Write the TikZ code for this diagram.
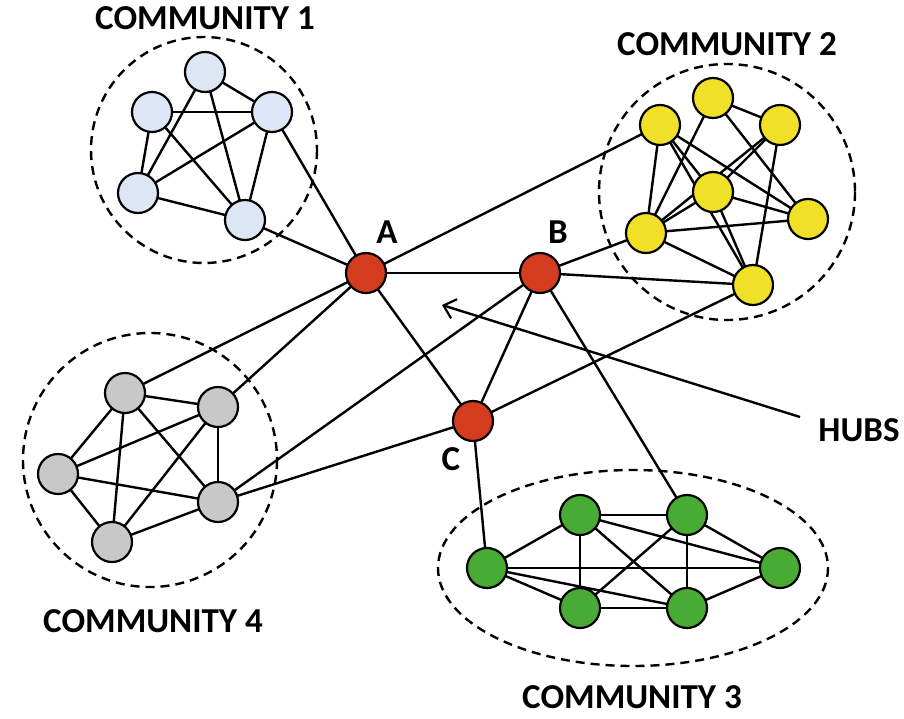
\documentclass[tikz,border=0pt]{standalone}
\usepackage{fontspec}
\setmainfont{Carlito}
\usetikzlibrary{arrows.meta}
\pgfdeclarelayer{bg}
\pgfsetlayers{bg,main}
\definecolor{cblue}{RGB}{220,230,244}
\definecolor{cyellow}{RGB}{240,224,40}
\definecolor{cgreen}{RGB}{72,172,52}
\definecolor{cgray}{RGB}{200,200,200}
\definecolor{cred}{RGB}{212,60,32}
\begin{document}
\begin{tikzpicture}[x=1pt,y=-1pt,
  vnode/.style={circle,draw=black,line width=2.2pt,minimum size=40pt,inner sep=0pt},
  bluen/.style={vnode,fill=cblue},
  yellown/.style={vnode,fill=cyellow},
  greenn/.style={vnode,fill=cgreen},
  grayn/.style={vnode,fill=cgray},
  hubn/.style={vnode,fill=cred},
  edge/.style={draw=black,line width=2.4pt},
  comm/.style={draw=black,line width=2.4pt,dash pattern=on 9pt off 6pt},
  lbl/.style={inner sep=0pt,font=\fontsize{35}{40}\selectfont\bfseries}
]
\useasboundingbox (0,0) rectangle (904,718);

% nodes
\node[bluen] (n1) at (205,72) {};
\node[bluen] (n2) at (152,112) {};
\node[bluen] (n3) at (272,112) {};
\node[bluen] (n4) at (138,193) {};
\node[bluen] (n5) at (245,220) {};

\node[yellown] (y1) at (713,98) {};
\node[yellown] (y2) at (660,125) {};
\node[yellown] (y3) at (780,125) {};
\node[yellown] (y4) at (713,192) {};
\node[yellown] (y5) at (808,219) {};
\node[yellown] (y6) at (646,233) {};
\node[yellown] (y7) at (753,285) {};

\node[grayn] (g1) at (125,393) {};
\node[grayn] (g2) at (218,407) {};
\node[grayn] (g3) at (58,474) {};
\node[grayn] (g4) at (218,502) {};
\node[grayn] (g5) at (112,542) {};

\node[greenn] (e1) at (487,568) {};
\node[greenn] (e2) at (580,515) {};
\node[greenn] (e3) at (687,515) {};
\node[greenn] (e4) at (780,568) {};
\node[greenn] (e5) at (580,608) {};
\node[greenn] (e6) at (687,608) {};

\node[hubn] (A) at (366,273) {};
\node[hubn] (B) at (540,273) {};
\node[hubn] (C) at (473,421) {};

\begin{pgfonlayer}{bg}
\fill[white] (0,0) rectangle (904,718);
% community outlines
\draw[comm] (204,150) circle (113);
\draw[comm] (727,192) circle (128);
\draw[comm] (150,460) circle (127);
\draw[comm] (633,568) ellipse (195 and 98);
% community 1
\foreach \a/\b in {n1/n3,n1/n4,n1/n5,n2/n3,n2/n4,n2/n5,n3/n4,n3/n5,n4/n5}
  \draw[edge] (\a.center) -- (\b.center);
% community 2
\foreach \a/\b in {y1/y3,y1/y6,y1/y5,y2/y6,y2/y5,y2/y7,y2/y4,y3/y6,y3/y4,y3/y7,y4/y6,y4/y5,y4/y7,y6/y5,y6/y7}
  \draw[edge] (\a.center) -- (\b.center);
% community 4
\foreach \a/\b in {g1/g2,g1/g3,g1/g5,g1/g4,g2/g3,g2/g5,g2/g4,g3/g4,g3/g5,g5/g4}
  \draw[edge] (\a.center) -- (\b.center);
% community 3
\foreach \a/\b in {e1/e2,e1/e4,e1/e5,e1/e6,e2/e3,e2/e5,e2/e6,e2/e4,e3/e5,e3/e6,e3/e4,e5/e6,e6/e4}
  \draw[edge] (\a.center) -- (\b.center);
% hubs
\foreach \a/\b in {A/n3,A/n5,A/y2,A/B,A/C,A/g1,A/g2,B/y6,B/y7,B/C,B/g4,B/e3,C/y7,C/g4,C/e1}
  \draw[edge] (\a.center) -- (\b.center);
\end{pgfonlayer}

% labels
\node[lbl] (l1) at (205,18) {COMMUNITY 1};
\node[lbl] (l2) at (727,44) {COMMUNITY 2};
\node[lbl] (l4) at (153,621) {COMMUNITY 4};
\node[lbl] (l3) at (632,697) {COMMUNITY 3};
\node[lbl] (hubs) at (859,430) {HUBS};
\node[lbl] (la) at (387,232) {A};
\node[lbl] (lb) at (558,232) {B};
\node[lbl] (lc) at (451,459) {C};

\coordinate (hs) at (800,417);
\coordinate (ht) at (442,305);
\draw[edge,-{Straight Barb[length=11pt,width=20pt,line width=2.2pt]}] (hs) -- (ht);
\end{tikzpicture}
\end{document}
